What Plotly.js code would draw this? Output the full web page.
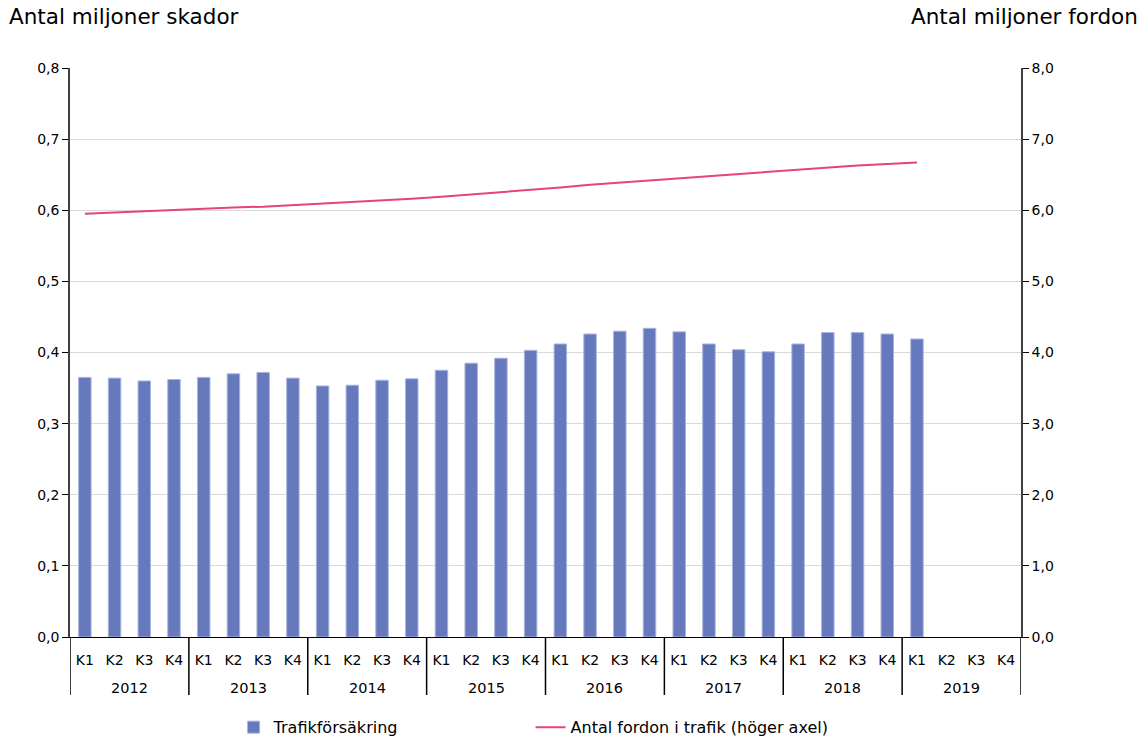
<!DOCTYPE html>
<html><head><meta charset="utf-8">
<script src="https://cdn.plot.ly/plotly-3.0.1.min.js"></script>
<style>html,body{margin:0;padding:0;background:#fff}#c{width:1145px;height:736px}</style>
</head><body><div id="c"></div>
<script>
const years = ["2012","2013","2014","2015","2016","2017","2018","2019"];
const quarters = ["K1","K2","K3","K4"];
const skador = [0.365,0.364,0.360,0.362, 0.365,0.370,0.372,0.364, 0.353,0.354,0.361,0.363,
  0.375,0.385,0.392,0.403, 0.412,0.426,0.430,0.434, 0.429,0.412,0.404,0.401,
  0.412,0.428,0.428,0.426, 0.419,null,null,null];
const fordon = [5.95,5.97,5.99,6.01, 6.02,6.04,6.05,6.07, 6.09,6.11,6.13,6.16,
  6.19,6.22,6.25,6.28, 6.32,6.36,6.39,6.42, 6.45,6.49,6.52,6.55,
  6.58,6.61,6.63,6.65, 6.67,null,null,null];
const seriesNames = ["Trafikförsäkring","Antal fordon i trafik (höger axel)"];
const axisTitles = ["Antal miljoner skador","Antal miljoner fordon"];

// category positions derived from the label arrays
const idx = [], qLabels = [];
years.forEach((y,yi)=>quarters.forEach((q,qi)=>{idx.push(yi*quarters.length+qi);qLabels.push(q);}));
const nQ = quarters.length;

const font = "DejaVu Sans, Verdana, sans-serif";
const data = [
  {type:"bar", x:idx, y:skador, name:seriesNames[0], width:0.42,
   marker:{color:"#6779BD", line:{color:"#A9B4DE", width:1}}, yaxis:"y"},
  {type:"scatter", mode:"lines", x:idx, y:fordon, name:seriesNames[1],
   line:{color:"#E8417E", width:2}, yaxis:"y2", connectgaps:false}
];

const plotH = 736-68-99;
const annotations = [
  {text:axisTitles[0], xref:"paper", yref:"paper", x:-0.066, y:1.065, xanchor:"left", yanchor:"bottom",
   showarrow:false, font:{size:21.5, family:font}},
  {text:axisTitles[1], xref:"paper", yref:"paper", x:1.125, y:1.065, xanchor:"right", yanchor:"bottom",
   showarrow:false, font:{size:21.5, family:font}}
];
const shapes = [];
years.forEach((y,yi)=>{
  annotations.push({text:y, xref:"x", yref:"paper", x:yi*nQ+(nQ-1)/2, y:-(688-637)/plotH,
    xanchor:"center", yanchor:"middle", showarrow:false, font:{size:14.5, family:font}});
});
for(let yi=0; yi<=years.length; yi++){
  shapes.push({type:"line", xref:"x", yref:"paper", x0:yi*nQ-0.5, x1:yi*nQ-0.5,
    y0:0, y1:-(695-637)/plotH, line:{color:"#000", width:1.5}});
}

const layout = {
  width:1145, height:736,
  margin:{l:70, r:124, t:68, b:99, autoexpand:false},
  paper_bgcolor:"#fff", plot_bgcolor:"#fff",
  separators:", ",
  font:{family:font, size:14, color:"#000"},
  showlegend:true,
  legend:{orientation:"h", xref:"container", yref:"container", x:0.204, xanchor:"left",
    y:0.035, yanchor:"top", font:{size:16}, traceorder:"normal", itemwidth:30,
    entrywidth:252, entrywidthmode:"pixels"},
  xaxis:{range:[-0.5, idx.length-0.5], tickvals:idx, ticktext:qLabels, showline:true,
    linecolor:"#000", linewidth:1, tickfont:{size:14}, ticks:"", ticklabelstandoff:10,
    showgrid:false, zeroline:false, fixedrange:true},
  yaxis:{range:[0,0.8], dtick:0.1, tickformat:".1f", showgrid:true, gridcolor:"#d9d9d9",
    gridwidth:1, showline:true, linecolor:"#404040", linewidth:1.5, ticks:"outside",
    ticklen:6, tickcolor:"#000", zeroline:false, tickfont:{size:14}},
  yaxis2:{range:[0,8], dtick:1, tickformat:".1f", overlaying:"y", side:"right",
    showgrid:false, showline:true, linecolor:"#404040", linewidth:1.5, ticks:"outside",
    ticklen:6, tickcolor:"#000", zeroline:false, tickfont:{size:14}},
  annotations:annotations,
  shapes:shapes
};
Plotly.newPlot("c", data, layout, {displayModeBar:false});
</script></body></html>
